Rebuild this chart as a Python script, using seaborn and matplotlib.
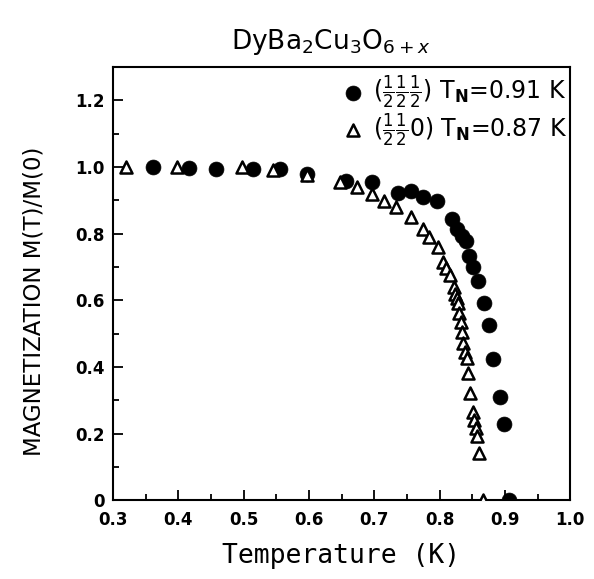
import numpy as np
import pandas as pd
import matplotlib
matplotlib.use("Agg")
import matplotlib.pyplot as plt
from matplotlib.ticker import MultipleLocator, FixedLocator, FixedFormatter
import seaborn as sns

# (1/2 1/2 1/2) reflection, T_N = 0.91 K
temp_half = [0.361, 0.416, 0.458, 0.514, 0.556, 0.597, 0.657, 0.697, 0.737, 0.756,
             0.775, 0.796, 0.819, 0.827, 0.834, 0.841, 0.845, 0.851, 0.859, 0.868,
             0.876, 0.882, 0.893, 0.899, 0.906]
mag_half = [1.000, 0.998, 0.995, 0.993, 0.993, 0.979, 0.958, 0.955, 0.922, 0.928,
            0.910, 0.898, 0.843, 0.813, 0.792, 0.777, 0.732, 0.699, 0.657, 0.593,
            0.525, 0.425, 0.310, 0.230, 0.000]

# (1/2 1/2 0) reflection, T_N = 0.87 K
temp_zero = [0.320, 0.398, 0.497, 0.545, 0.597, 0.648, 0.674, 0.697, 0.715, 0.733,
             0.756, 0.775, 0.784, 0.798, 0.805, 0.810, 0.816, 0.822, 0.824, 0.827,
             0.828, 0.830, 0.833, 0.834, 0.836, 0.839, 0.842, 0.844, 0.847, 0.851,
             0.853, 0.856, 0.857, 0.861, 0.867]
mag_zero = [1.000, 1.000, 1.000, 0.990, 0.975, 0.955, 0.940, 0.918, 0.898, 0.880,
            0.849, 0.813, 0.789, 0.759, 0.714, 0.696, 0.675, 0.639, 0.620, 0.608,
            0.593, 0.563, 0.536, 0.506, 0.472, 0.446, 0.428, 0.383, 0.322, 0.265,
            0.241, 0.217, 0.193, 0.142, 0.000]

label_half = r"$(\frac{1}{2}\frac{1}{2}\frac{1}{2})$ T$_\mathbf{N}$=0.91 K"
label_zero = r"$(\frac{1}{2}\frac{1}{2}0)$ T$_\mathbf{N}$=0.87 K"

x_ticks = [0.3, 0.4, 0.5, 0.6, 0.7, 0.8, 0.9, 1.0]
x_tick_labels = ["0.3", "0.4", "0.5", "0.6", "0.7", "0.8", "0.9", "1.0"]
y_ticks = [0.0, 0.2, 0.4, 0.6, 0.8, 1.0, 1.2]
y_tick_labels = ["0", "0.2", "0.4", "0.6", "0.8", "1.0", "1.2"]

df_half = pd.DataFrame({"T": temp_half, "M": mag_half})
df_zero = pd.DataFrame({"T": temp_zero, "M": mag_zero})

sns.set_theme(style="ticks")
plt.rcParams["font.family"] = ["DejaVu Sans"]
plt.rcParams["mathtext.fontset"] = "dejavusans"
for key in ["text.color", "axes.labelcolor", "xtick.color", "ytick.color",
            "axes.edgecolor"]:
    plt.rcParams[key] = "black"

fig = plt.figure(figsize=(5.94, 5.79), dpi=100)
ax = fig.add_axes([0.190, 0.136, 0.770, 0.748])

sns.scatterplot(data=df_half, x="T", y="M", ax=ax, marker="o", s=115,
                color="black", edgecolor="black", linewidth=0.5,
                label=label_half, zorder=3)
sns.scatterplot(data=df_zero, x="T", y="M", ax=ax, marker="^", s=75,
                facecolor="white", edgecolor="black", linewidth=1.8,
                label=label_zero, zorder=4)

ax.set_xlim(0.3, 1.0)
ax.set_ylim(0.0, 1.3)

ax.xaxis.set_major_locator(FixedLocator(x_ticks))
ax.xaxis.set_major_formatter(FixedFormatter(x_tick_labels))
ax.xaxis.set_minor_locator(MultipleLocator(0.05))
ax.yaxis.set_major_locator(FixedLocator(y_ticks))
ax.yaxis.set_major_formatter(FixedFormatter(y_tick_labels))
ax.yaxis.set_minor_locator(MultipleLocator(0.1))

ax.tick_params(which="both", direction="in", color="black", width=1.3)
ax.tick_params(which="major", length=7, labelsize=12)
ax.tick_params(axis="x", which="major", pad=8)
ax.tick_params(axis="y", which="major", pad=6)
ax.tick_params(which="minor", length=4)
for lbl in ax.get_xticklabels() + ax.get_yticklabels():
    lbl.set_fontweight("bold")

for side in ["left", "right", "top", "bottom"]:
    ax.spines[side].set_visible(True)
    ax.spines[side].set_linewidth(1.5)
    ax.spines[side].set_color("black")

ax.set_xlabel("Temperature (K)", fontsize=19, labelpad=10,
              family="DejaVu Sans Mono")
ax.set_ylabel("MAGNETIZATION M(T)/M(0)", fontsize=16.5)
ax.yaxis.set_label_coords(-0.148, 0.46)

fig.text(0.557, 0.928, r"DyBa$_2$Cu$_3$O$_{6+x}$", fontsize=19,
         ha="center", va="center")

leg = ax.legend(loc="upper right", bbox_to_anchor=(1.0, 0.99),
                frameon=False, fontsize=17, handletextpad=0.4,
                borderaxespad=0.0, labelspacing=0.0,
                handlelength=0.9, borderpad=0.1)

fig.savefig("out.png", dpi=100, facecolor="white")
